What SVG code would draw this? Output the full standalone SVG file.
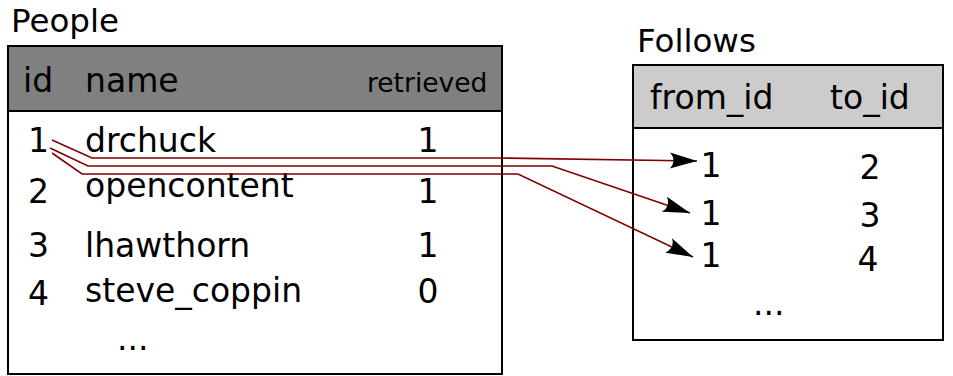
<svg xmlns="http://www.w3.org/2000/svg" width="953" height="376" viewBox="0 0 953 376">
<style>
text{font-family:"DejaVu Sans",sans-serif;fill:#000}
.t{font-size:32.5px}
.r{font-size:33px}
.sm{font-size:26.5px}
.tbl{fill:#fff;stroke:#000;stroke-width:2}
.conn{fill:none;stroke:#800000;stroke-width:1.6}
</style>
<defs>
<marker id="arr" markerUnits="userSpaceOnUse" orient="auto" viewBox="-30 -10 32 20" markerWidth="32" markerHeight="20" refX="0" refY="0">
<path d="M0,0 L-27,-8 Q-20,0 -27,8 Z" fill="#000"/>
</marker>
</defs>
<rect width="953" height="376" fill="#fff"/>
<g id="people">
<text class="t" x="11" y="32">People</text>
<rect class="tbl" x="8" y="46" width="494" height="328"/>
<rect x="8" y="46" width="494" height="65" fill="#808080" stroke="#000" stroke-width="2"/>
<text class="r" x="23" y="92">id</text>
<text class="r" x="85" y="92">name</text>
<text class="sm" x="367" y="92">retrieved</text>
<text class="r" x="28" y="152">1</text>
<text class="r" x="85" y="152">drchuck</text>
<text class="r" x="428" y="152" text-anchor="middle">1</text>
<text class="r" x="28" y="203">2</text>
<text class="r" x="85" y="197">opencontent</text>
<text class="r" x="428" y="203" text-anchor="middle">1</text>
<text class="r" x="28" y="257">3</text>
<text class="r" x="85" y="257">lhawthorn</text>
<text class="r" x="428" y="257" text-anchor="middle">1</text>
<text class="r" x="28" y="305">4</text>
<text class="r" x="85" y="302">steve_coppin</text>
<text class="r" x="428" y="303" text-anchor="middle">0</text>
<text class="r" x="117" y="350">...</text>
</g>
<g id="follows">
<text class="t" x="637" y="52">Follows</text>
<rect class="tbl" x="633" y="65" width="310" height="275"/>
<rect x="633" y="65" width="310" height="63" fill="#cccccc" stroke="#000" stroke-width="2"/>
<text class="r" x="650" y="109">from_id</text>
<text class="r" x="830" y="109">to_id</text>
<text class="r" x="711" y="177" text-anchor="middle">1</text>
<text class="r" x="870" y="179" text-anchor="middle">2</text>
<text class="r" x="711" y="225" text-anchor="middle">1</text>
<text class="r" x="870" y="227" text-anchor="middle">3</text>
<text class="r" x="711" y="267" text-anchor="middle">1</text>
<text class="r" x="868" y="271" text-anchor="middle">4</text>
<text class="r" x="753" y="315">...</text>
</g>
<g id="connectors">
<path class="conn" d="M52,140 L92,158 L500,158 L697,161" marker-end="url(#arr)"/>
<path class="conn" d="M50,148 L88,166 L552,166 L690,213" marker-end="url(#arr)"/>
<path class="conn" d="M52,153 L82,174 L518,174 L693,257" marker-end="url(#arr)"/>
</g>
</svg>
